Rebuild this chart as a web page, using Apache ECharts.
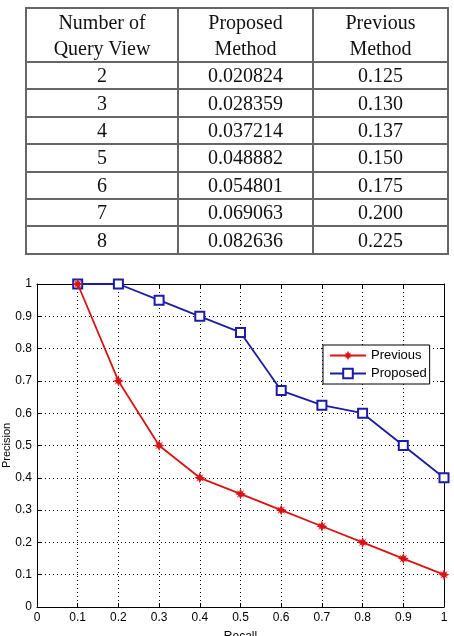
<!DOCTYPE html>
<html>
<head>
<meta charset="utf-8">
<script src="https://cdn.jsdelivr.net/npm/echarts@6/dist/echarts.min.js"></script>
<style>
  html, body { margin: 0; padding: 0; background: #fff; }
  #wrap { position: relative; width: 454px; height: 636px; overflow: hidden; }
  #chart { position: absolute; left: 0; top: 0; width: 454px; height: 636px; }
  #tbl {
    position: absolute; left: 25px; top: 7px; width: 422px;
    border-collapse: collapse; table-layout: fixed;
    font-family: "Liberation Serif", "Times New Roman", serif; font-size: 20px; color: #111;
  }
  #tbl td { border: 2px solid #666; text-align: center; padding: 0; height: 25.4px; line-height: 25px; }
  #tbl tr.head td { height: 52px; line-height: 26px; }
</style>
</head>
<body>
<div id="wrap">
  <div id="chart"></div>
  <table id="tbl"></table>
</div>
<script>
// table data
const tableHeader = ['Number of<br>Query View', 'Proposed<br>Method', 'Previous<br>Method'];
const queryViews = ['2', '3', '4', '5', '6', '7', '8'];
const proposedTime = ['0.020824', '0.028359', '0.037214', '0.048882', '0.054801', '0.069063', '0.082636'];
const previousTime = ['0.125', '0.130', '0.137', '0.150', '0.175', '0.200', '0.225'];

// chart data
const recall = [0.1, 0.2, 0.3, 0.4, 0.5, 0.6, 0.7, 0.8, 0.9, 1.0];
const previousPrecision = [1.0, 0.7, 0.5, 0.4, 0.35, 0.3, 0.25, 0.2, 0.15, 0.1];
const proposedPrecision = [1.0, 1.0, 0.95, 0.9, 0.85, 0.67, 0.625, 0.6, 0.5, 0.4];

// build table
let html = '<colgroup><col style="width:152px"><col style="width:135px"><col style="width:135px"></colgroup>';
html += '<tr class="head">' + tableHeader.map(h => '<td>' + h + '</td>').join('') + '</tr>';
for (let i = 0; i < queryViews.length; i++) {
    html += '<tr><td>' + queryViews[i] + '</td><td>' + proposedTime[i] + '</td><td>' + previousTime[i] + '</td></tr>';
}
document.getElementById('tbl').innerHTML = html;

const red = '#d81414';
const blue = '#1c1ca6';
const font = '"Liberation Sans", Arial, sans-serif';
const starPath = 'path://M0,-10 L2.5,-4 L7,-7 L4,-2.5 L10,0 L4,2.5 L7,7 L2.5,4 L0,10 L-2.5,4 L-7,7 L-4,2.5 L-10,0 L-4,-2.5 L-7,-7 L-2.5,-4 Z';

const fmt = v => String(+v.toFixed(1));

function axisBase(show) {
    return {
        type: 'value', min: 0, max: 1, interval: 0.1,
        axisLine: { show: true, onZero: false, lineStyle: { color: '#000', width: 1 } },
        axisTick: { show: true, inside: true, length: 4, lineStyle: { color: '#000' } },
        axisLabel: { show: show, color: '#000', fontFamily: font, fontSize: 12, formatter: fmt },
        splitLine: { show: show, lineStyle: { color: '#000', type: [1, 3], width: 1 } }
    };
}

let myChart = echarts.init(document.getElementById('chart'));
let xMain = axisBase(true);
xMain.name = 'Recall';
xMain.nameLocation = 'middle';
xMain.nameGap = 24;
xMain.nameMoveOverlap = false;
xMain.nameTextStyle = { color: '#000', fontFamily: font, fontSize: 12 };
xMain.axisLabel.margin = 5;
let yMain = axisBase(true);
yMain.name = 'Precision';
yMain.nameLocation = 'middle';
yMain.nameGap = 25;
yMain.nameMoveOverlap = false;
yMain.nameTextStyle = { color: '#000', fontFamily: font, fontSize: 11 };
yMain.axisLabel.margin = 5;
let xTop = axisBase(false);
xTop.position = 'top';
let yRight = axisBase(false);
yRight.position = 'right';

let option = {
    animation: false,
    grid: { left: 37, right: 10, top: 284, bottom: 29, show: false, containLabel: false, outerBoundsMode: 'none' },
    legend: {
        orient: 'vertical',
        left: 323, top: 345,
        itemWidth: 36, itemHeight: 12, itemGap: 5,
        padding: [4, 3, 4, 6],
        backgroundColor: '#fff',
        borderColor: '#000', borderWidth: 1,
        textStyle: { color: '#000', fontFamily: font, fontSize: 13 },
        data: ['Previous', 'Proposed']
    },
    xAxis: [xMain, xTop],
    yAxis: [yMain, yRight],
    series: [
        {
            name: 'Proposed', type: 'line', xAxisIndex: 0, yAxisIndex: 0,
            data: recall.map((r, i) => [r, proposedPrecision[i]]),
            symbol: 'emptyRect', symbolSize: 9,
            lineStyle: { color: blue, width: 1.8 },
            itemStyle: { color: blue, borderColor: blue, borderWidth: 1.8 },
            z: 3
        },
        {
            name: 'Previous', type: 'line', xAxisIndex: 0, yAxisIndex: 0,
            data: recall.map((r, i) => [r, previousPrecision[i]]),
            symbol: starPath, symbolSize: 11,
            lineStyle: { color: red, width: 1.8 },
            itemStyle: { color: red },
            z: 4
        }
    ]
};
myChart.setOption(option);
</script>
</body>
</html>
